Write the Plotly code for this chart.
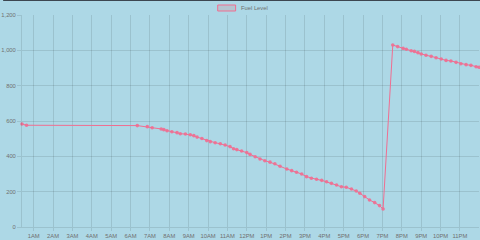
import plotly.graph_objects as go

day = "2024-01-01"
times = ["00:24", "00:38", "06:21", "06:52", "07:07", "07:35", "07:43", "07:53",
         "08:08", "08:24", "08:34", "08:50", "09:05", "09:16", "09:26", "09:41",
         "09:56", "10:07", "10:22", "10:38", "10:53", "11:08", "11:19", "11:29",
         "11:44", "12:00", "12:10", "12:26", "12:41", "12:56", "13:12", "13:27",
         "13:43", "14:04", "14:19", "14:34", "14:50", "15:05", "15:20", "15:36",
         "15:52", "16:07", "16:22", "16:38", "16:53", "17:08", "17:24", "17:39",
         "17:50", "18:05", "18:20", "18:36", "18:51", "19:02", "19:32", "19:47",
         "20:04", "20:14", "20:29", "20:39", "20:50", "21:00", "21:15", "21:31",
         "21:46", "22:02", "22:17", "22:32", "22:48", "23:03", "23:19", "23:34",
         "23:50", "23:59"]
fuel_level = [583, 576, 574, 568, 562, 555, 551, 545,
              539, 534, 528, 526, 522, 517, 509, 501,
              489, 483, 477, 471, 464, 455, 443, 438,
              430, 421, 411, 398, 385, 375, 367, 358,
              344, 328, 319, 310, 300, 285, 276, 270,
              264, 256, 247, 238, 228, 225, 215, 204,
              191, 172, 153, 138, 121, 102, 1030, 1021,
              1011, 1006, 998, 994, 987, 979, 972, 966,
              958, 951, 943, 940, 932, 924, 919, 915,
              907, 904]
series_name = "Fuel Level"
y_ticks = [0, 200, 400, 600, 800, 1000, 1200]

x = [f"{day} {t}" for t in times]

BG = "#ADD8E6"
PINK = "rgb(240,110,145)"
GRID = "rgba(0,0,0,0.1)"
FONT = dict(family="Liberation Sans, Arial, sans-serif", size=5.8, color="#707070")

fig = go.Figure()
fig.add_trace(go.Scatter(
    x=x, y=fuel_level, mode="lines+markers", name=series_name,
    line=dict(color=PINK, width=1),
    marker=dict(size=3.6, color="rgba(240,110,145,0.9)", line=dict(width=0)),
    cliponaxis=False, showlegend=False,
))

W, H = 480, 240
ml, mr, mt, mb = 19, 1, 15, 13
pw, ph = W - ml - mr, H - mt - mb

def px2x(p):
    return (p - ml) / pw

def py2y(p):
    return (H - mb - p) / ph

fig.update_layout(
    width=W, height=H,
    margin=dict(l=ml, r=mr, t=mt, b=mb, pad=0),
    paper_bgcolor=BG, plot_bgcolor=BG,
    font=FONT,
    xaxis=dict(
        type="date", range=[x[0], x[-1]],
        tick0=f"{day} 00:00", dtick=3600000, tickformat="%-I%p",
        showgrid=True, gridcolor=GRID, gridwidth=1,
        ticks="outside", ticklen=3, tickcolor=GRID,
        showline=True, linecolor=GRID, linewidth=1,
        zeroline=False, tickfont=FONT,
    ),
    yaxis=dict(
        range=[0, 1200], tickvals=y_ticks, tickformat=",",
        showgrid=True, gridcolor=GRID, gridwidth=1,
        ticks="outside", ticklen=4, tickcolor=GRID,
        showline=True, linecolor=GRID, linewidth=1,
        zeroline=False, tickfont=FONT,
    ),
    shapes=[
        dict(type="rect", xref="paper", yref="paper",
             x0=px2x(216), x1=px2x(234), y0=py2y(11), y1=py2y(5),
             fillcolor="rgba(185,190,200,0.75)", line=dict(color=PINK, width=1)),
        dict(type="rect", xref="paper", yref="paper",
             x0=px2x(0), x1=px2x(480), y0=py2y(1), y1=py2y(0),
             fillcolor="rgb(60,70,80)", line=dict(width=0)),
    ],
    annotations=[
        dict(text=series_name, xref="paper", yref="paper",
             x=px2x(237.5), y=py2y(8), xanchor="left", yanchor="middle",
             showarrow=False, font=FONT),
    ],
)

fig.write_html("out.html")
